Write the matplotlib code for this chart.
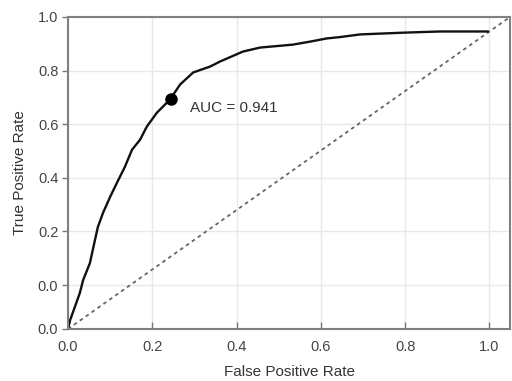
import matplotlib
matplotlib.use("Agg")
import matplotlib.pyplot as plt

plt.rcParams['font.family'] = ['Liberation Sans', 'DejaVu Sans']

fpr = [0.0, 0.005, 0.028, 0.036, 0.052, 0.064, 0.071, 0.083, 0.100, 0.116, 0.135,
       0.152, 0.171, 0.187, 0.211, 0.242, 0.266, 0.297, 0.337, 0.361, 0.415,
       0.456, 0.534, 0.574, 0.614, 0.645, 0.693, 0.724, 0.804, 0.883, 0.996]
tpr = [-0.164, -0.131, -0.030, 0.019, 0.082, 0.168, 0.217, 0.269, 0.329, 0.381, 0.441,
       0.505, 0.542, 0.591, 0.643, 0.692, 0.748, 0.793, 0.815, 0.834, 0.871,
       0.886, 0.897, 0.908, 0.920, 0.925, 0.935, 0.937, 0.942, 0.946, 0.946]
marker_pt = (0.244, 0.695)
auc_text = "AUC = 0.941"
xticks = [0.0, 0.2, 0.4, 0.6, 0.8, 1.0]
xticklabels = ["0.0", "0.2", "0.4", "0.6", "0.8", "1.0"]
yticks = [-0.164, 0.0, 0.2, 0.4, 0.6, 0.8, 1.0]
yticklabels = ["0.0", "0.0", "0.2", "0.4", "0.6", "0.8", "1.0"]

fig = plt.figure(figsize=(5.12, 3.81), dpi=100)
ax = fig.add_axes([68/512, 52/381, 442/512, 312/381])
ax.set_xlim(0, 1.049)
ax.set_ylim(-0.164, 1.0)

ax.plot([0, 1], [0, 1], transform=ax.transAxes, color='#666666', lw=1.3,
        linestyle=(0, (2, 2)))
ax.plot(fpr, tpr, color='#111111', lw=1.7)
ax.plot([marker_pt[0]], [marker_pt[1]], 'o', color='black', markersize=8, zorder=5)
ax.text(0.29, 0.662, auc_text, fontsize=11, color='#333333', va='center', ha='left')

ax.set_xticks(xticks)
ax.set_xticklabels(xticklabels)
ax.set_yticks(yticks)
ax.set_yticklabels(yticklabels)
ax.grid(True, color='#e8e8e8', lw=1.0)
ax.set_axisbelow(True)
ax.tick_params(axis='x', direction='in', length=5, width=1, colors='#777777',
               labelcolor='#444444', labelsize=10.5, pad=8)
ax.tick_params(axis='y', direction='out', length=4, width=1, colors='#777777',
               labelcolor='#444444', labelsize=10.5, pad=3)
for s in ax.spines.values():
    s.set_color('#808080')
    s.set_linewidth(1.5)
ax.set_xlabel("False Positive Rate", fontsize=11, color='#333333', labelpad=8)
ax.set_ylabel("True Positive Rate", fontsize=11, color='#333333', labelpad=8)

fig.savefig("out.png", dpi=100)
